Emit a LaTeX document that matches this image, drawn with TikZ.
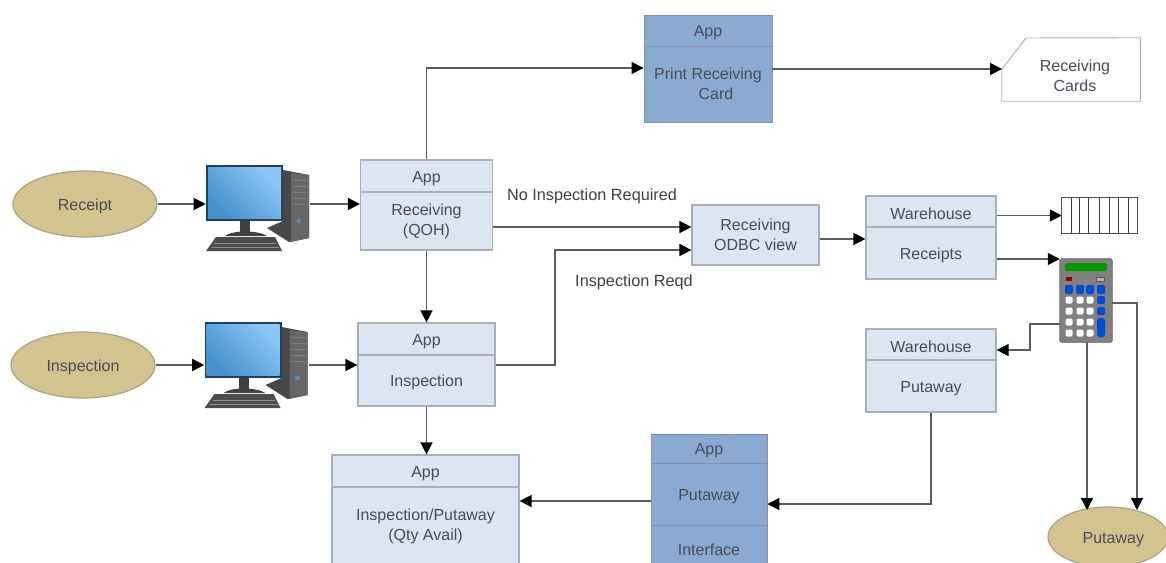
\documentclass[tikz,border=0pt]{standalone}
\usepackage{fontspec}
\setmainfont{Liberation Sans}
\usetikzlibrary{arrows.meta,shapes.geometric}
\definecolor{lightfill}{HTML}{DCE6F2}
\definecolor{lightedge}{HTML}{A9B0BC}
\definecolor{darkfill}{HTML}{8AAAD2}
\definecolor{darkedge}{HTML}{7F93B0}
\definecolor{tan}{HTML}{D3C48F}
\definecolor{tanedge}{HTML}{A8A488}
\definecolor{inkline}{HTML}{5C5C5C}
\definecolor{inktext}{HTML}{4A4A58}
\definecolor{HLa}{HTML}{8CC6F5}
\definecolor{HLb}{HTML}{4590CE}
\tikzset{
  wh/.style 2 args={minimum width=#1*0.75pt,minimum height=#2*0.75pt},
  boxtext/.style={text=inktext,font=\fontsize{12pt}{15pt}\selectfont,execute at begin node={\rule{0pt}{11.5pt}}},
  basebox/.style={rectangle,inner sep=0pt,align=center,boxtext,line width=0.9pt},
  lightbox/.style={basebox,draw=lightedge,fill=lightfill},
  darkbox/.style={basebox,draw=darkedge,fill=darkfill,line width=0.7pt},
  oval/.style={ellipse,inner sep=0pt,draw=tanedge,fill=tan,line width=0.9pt,boxtext},
  ghost/.style={rectangle,inner sep=0pt},
  lbl/.style={inner sep=0pt,text=black!75,font=\fontsize{12.2pt}{15pt}\selectfont},
  conn/.style={draw=inkline,line width=1.1pt,-{Triangle[length=9pt,width=9pt,color=black]}},
}
\newcommand{\pcicon}[2]{%
\begin{scope}[shift={(#1,#2)}]
  \fill[black!72] (283,170) -- (309,175) -- (309,238) -- (289,242) -- (267,228) -- (283,221) -- cycle;
  \fill[black!60] (291,173) -- (309,175) -- (309,238) -- (291,242) -- cycle;
  \foreach \yy in {180,186,192,198,204}{\draw[black!45,line width=0.4pt] (291,\yy) -- (309,\yy+1);}
  \fill[HLb] (299,221) circle (2.5);
  \fill[black!75] (240,221) rectangle (250,232);
  \fill[black!75] (225,236) .. controls (232,230) and (258,230) .. (267,236) -- cycle;
  \fill[black!55!HLb] (206,165) rectangle (283,221);
  \shade[left color=HLa,right color=HLb,shading angle=-45] (208,167) rectangle (281,218);
  \fill[black!70] (206,251) -- (216,237) -- (275,237) -- (282,251) -- cycle;
  \draw[black!45,line width=0.3pt] (214,243) -- (276,243) (211,247) -- (279,247);
\end{scope}}
\begin{document}
\begin{tikzpicture}[x=0.75pt,y=-0.75pt]
\clip (0,0) rectangle (1166,563);
\fill[white] (0,0) rectangle (1166,563);

% ovals
\node[oval,wh={144}{66}] (rc) at (85,204) {Receipt};
\node[oval,wh={144}{66}] (in) at (83,365) {Inspection};
\node[oval,wh={120}{60}] (pw) at (1108,537) {\hspace*{8pt}Putaway};

% computers
\pcicon{0}{0}
\pcicon{-1.5}{157}
\node[ghost,wh={104}{78}] (pca) at (258,204) {};
\node[ghost,wh={104}{78}] (pcb) at (256.5,365) {};

% Print Receiving Card
\node[darkbox,wh={128}{31}] (prh) at (708,30.5) {App};
\node[darkbox,wh={128}{76}] (prb) at (708,84) {Print Receiving\\\hspace*{1em}Card};

% Receiving Cards
\node[ghost,wh={138}{63}] (cards) at (1071,69.5) {};
\draw[lightedge,fill=white,line width=0.7pt] (cards.west) -- (1026,38) -- (cards.north east) -- (cards.south east) -- (cards.south west) -- cycle;
\node[basebox] (cardt) at (1075,75.5) {Receiving\\Cards};

% App Receiving
\node[lightbox,wh={132}{32}] (rvh) at (426.5,176) {App};
\node[lightbox,wh={132}{58}] (rvb) at (426.5,221) {Receiving\\(QOH)};

% App Inspection
\node[lightbox,wh={137}{32}] (ish) at (426.5,339) {App};
\node[lightbox,wh={137}{51}] (isb) at (426.5,380.5) {Inspection};

% Inspection/Putaway
\node[lightbox,wh={187}{32}] (iph) at (425.5,471) {App};
\node[lightbox,wh={187}{79}] (ipb) at (425.5,526.5) {Inspection/Putaway\\(Qty Avail)};

% ODBC
\node[lightbox,wh={127}{60}] (od) at (755.5,235) {Receiving\\ODBC view};

% Warehouse Receipts
\node[lightbox,wh={130}{31}] (wrh) at (931,211.5) {Warehouse};
\node[lightbox,wh={130}{52}] (wrb) at (931,253) {Receipts};

% Warehouse Putaway
\node[lightbox,wh={130}{31}] (wph) at (931,344.5) {Warehouse};
\node[lightbox,wh={130}{52}] (wpb) at (931,386) {Putaway};

% App Putaway Interface
\node[darkbox,wh={116}{29}] (aph) at (709,448.5) {App};
\node[darkbox,wh={116}{62}] (apb) at (709,494) {Putaway};
\node[darkbox,wh={116}{45}] (api) at (709,547.5) {Interface};

% rack
\node[ghost,wh={75}{35}] (rack) at (1099.5,215.5) {};
\draw[black!70,fill=white,line width=0.7pt] (rack.north west) rectangle (rack.south east);
\foreach \xx in {1071,1079,1088,1099,1109,1118,1128}{\draw[black!75,line width=0.7pt] (\xx,198) -- (\xx,233);}

% calculator
\node[ghost,wh={52}{83}] (calc) at (1086,300.5) {};
\fill[black!50,draw=black!60,line width=0.6pt,rounded corners=1.5pt] (calc.north west) rectangle (calc.south east);
\fill[green!60!black,rounded corners=1pt] (1065,263) rectangle (1107,271);
\fill[red!60!black] (1066,277) rectangle (1072,281);
\draw[black!65,fill=black!30,line width=0.5pt] (1096,277) rectangle (1104,281);
\foreach \xx in {1069,1080,1090,1101}{\fill[blue!65!cyan!85!black,rounded corners=1.5pt] (\xx-4,285) rectangle (\xx+4,294);}
\foreach \xx in {1069,1080,1090}\foreach \yy in {300,311,322,333}{\fill[white,rounded corners=1pt] (\xx-3.5,\yy-3.5) rectangle (\xx+3.5,\yy+3.5);}
\foreach \yy in {300,311}{\fill[blue!65!cyan!85!black,rounded corners=1.5pt] (1097,\yy-4) rectangle (1105,\yy+4);}
\fill[blue!65!cyan!85!black,rounded corners=2pt] (1097,318) rectangle (1105,337);

% free connector ends and bends
\coordinate (inspbend) at (555,365);
\coordinate (cardin) at (1002,69);
\coordinate (calcout) at (1060,324);
\coordinate (calcbend) at (1030,324);
\coordinate (calcright) at (1112,303);
\coordinate (calcbot) at (1087,342);
\coordinate (pwa) at (1087,510);
\coordinate (pwb) at (1137,510);

% connectors
\draw[conn] (rc.east) -- (rc.east -| pca.west);
\draw[conn] (pca.east) -- (pca.east -| rvb.west);
\draw[conn] (in.east) -- (in.east -| pcb.west);
\draw[conn] (pcb.east) -- (pcb.east -| isb.west);
\draw[conn] (rvh.north) |- (prb.west |- 0,68);
\draw[conn] (prb.east |- cardin) -- (cardin);
\draw[conn] (rvb.east |- 0,227) -- (od.west |- 0,227);
\draw[conn] (isb.east |- inspbend) -- (inspbend) -- (inspbend |- 0,250) -- (od.west |- 0,250);
\draw[conn] (rvb.south) -- (ish.north);
\draw[conn] (isb.south) -- (isb.south |- iph.north);
\draw[conn] (od.east |- 0,239) -- (wrb.west |- 0,239);
\draw[conn] (wrh.east |- rack.west) -- (rack.west);
\draw[conn] (wrb.east |- 0,259) -- (calc.west |- 0,259);
\draw[conn] (calcout) -- (calcbend) -- (calcbend |- 0,350) -- (wph.east |- 0,350);
\draw[conn] (calcbot) -- (pwa);
\draw[conn] (calcright) -- (pwb |- calcright) -- (pwb);
\draw[conn] (wpb.south) |- (apb.east |- 0,504);
\draw[conn] (apb.west |- 0,501) -- (ipb.east |- 0,501);

% labels
\node[lbl] (noinsp) at (592,196) {No Inspection Required};
\node[lbl] (insreq) at (634,282) {Inspection Reqd};
\end{tikzpicture}
\end{document}
